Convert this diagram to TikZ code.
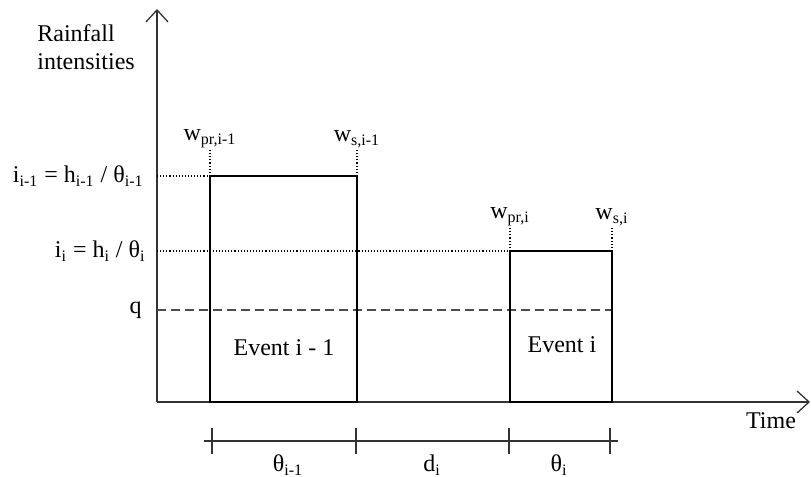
\documentclass[tikz,border=0pt]{standalone}
\usepackage{fontspec}
\setmainfont{Liberation Serif}
\usetikzlibrary{arrows.meta, positioning}

\tikzset{
  axis/.style={line width=0.65pt, draw=black!80, -{Straight Barb[length=6pt,width=11pt]}},
  eventbox/.style={line width=1.2pt},
  guide/.style={densely dotted, line width=0.55pt},
  thresh/.style={dash pattern=on 4.5pt off 2.5pt, line width=0.75pt, draw=black!70},
  scaleline/.style={line width=0.65pt, draw=black!80},
  lbl/.style={font=\fontsize{12}{14}\selectfont, inner sep=1pt},
}

\begin{document}
\begin{tikzpicture}[x=0.5pt, y=0.5pt]
  \useasboundingbox (0,0) rectangle (811,477);
  % Axes
  \coordinate (O) at (157,75);
  \coordinate (ytop) at (157,468);
  \coordinate (xend) at (810,75);
  \draw[axis] (O) -- (ytop);
  \draw[axis] (O) -- (xend);
  \node[lbl, align=left, anchor=north west] (ylab) at (35,455) {Rainfall\\intensities};
  \node[lbl] (xlab) at (771,56) {Time};
  % Event corners
  \coordinate (a1) at (210,75);
  \coordinate (b1) at (357,301);
  \coordinate (a2) at (510,75);
  \coordinate (b2) at (612,226);
  % Guide lines (intensity levels and event limits)
  \draw[guide] (O |- b1) -- (a1 |- b1);
  \draw[guide] (O |- b2) -- (a2 |- b2);
  \coordinate (wpr1) at (210,327);
  \coordinate (ws1) at (357,327);
  \coordinate (wpr2) at (510,249);
  \coordinate (ws2) at (612,249);
  \draw[guide] (a1 |- b1) -- (wpr1);
  \draw[guide] (b1) -- (ws1);
  \draw[guide] (a2 |- b2) -- (wpr2);
  \draw[guide] (b2) -- (ws2);
  % Threshold q
  \coordinate (q0) at (157,167);
  \draw[thresh] (q0) -- (q0 -| b2);
  % Events
  \draw[eventbox] (a1) rectangle (b1);
  \draw[eventbox] (a2) rectangle (b2);
  \node[lbl] (ev1) at (284,129) {Event i - 1};
  \node[lbl] (ev2) at (562,132) {Event i};
  % Level labels
  \node[lbl, anchor=east] (ilast) at (146,301) {i\textsubscript{i-1} = h\textsubscript{i-1} / θ\textsubscript{i-1}};
  \node[lbl, anchor=east] (icur) at (148,226) {i\textsubscript{i} = h\textsubscript{i} / θ\textsubscript{i}};
  \node[lbl, anchor=east] (qlab) at (144,167) {q};
  % Event limits
  \node[lbl, anchor=south] (wpr1lab) at (wpr1) {w\textsubscript{pr,i-1}};
  \node[lbl, anchor=south] (ws1lab) at (ws1) {w\textsubscript{s,i-1}};
  \node[lbl, anchor=south] (wpr2lab) at (wpr2) {w\textsubscript{pr,i}};
  \node[lbl, anchor=south] (ws2lab) at (ws2) {w\textsubscript{s,i}};
  % Durations scale
  \coordinate (s0) at (204,36);
  \coordinate (s1) at (618,36);
  \draw[scaleline] (s0) -- (s1);
  \foreach \x in {212,356,509,610}{
    \draw[scaleline] (\x,49) -- (\x,23);
  }
  \node[lbl] (th1) at (288,12) {θ\textsubscript{i-1}};
  \node[lbl] (dlab) at (432,12) {d\textsubscript{i}};
  \node[lbl] (th2) at (559,12) {θ\textsubscript{i}};
\end{tikzpicture}
\end{document}
